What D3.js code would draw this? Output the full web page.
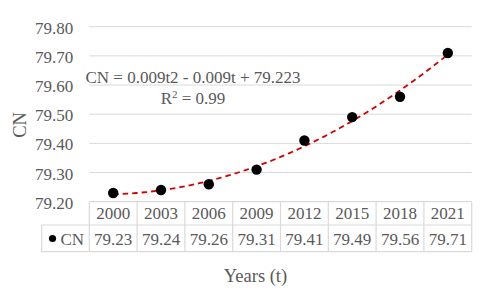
<!DOCTYPE html>
<html><head><meta charset="utf-8">
<script src="https://cdn.jsdelivr.net/npm/d3@7"></script>
<style>body{margin:0;background:#fff}svg{display:block}</style>
</head><body>
<svg id="c" width="480" height="294"></svg>
<script>
const years = ["2000","2003","2006","2009","2012","2015","2018","2021"];
const cnValues = [79.23,79.24,79.26,79.31,79.41,79.49,79.56,79.71];
const yTicks = [79.20,79.30,79.40,79.50,79.60,79.70,79.80];
const seriesName = "CN";
const eqText = "CN = 0.009t2 - 0.009t + 79.223";
const r2Text = "0.99";

(function(){
const svg = d3.select("#c");
const font = "'Liberation Serif','Times New Roman',serif";
const grey = "#595959";
const fs = 17;
const pLeft = 89.3, pRight = 471.7, pTop = 26.7, pBottom = 201.7;

const x = d3.scaleBand().domain(years).range([pLeft,pRight]);
const y = d3.scaleLinear().domain([79.2,79.8]).range([pBottom,pTop]);

// least-squares quadratic fit (t = 1..n), like a spreadsheet polynomial trendline
function quadFit(vals){
  const n = vals.length; let S=[0,0,0,0,0], T=[0,0,0];
  vals.forEach((v,i)=>{const t=i+1; for(let k=0;k<5;k++) S[k]+=Math.pow(t,k); for(let k=0;k<3;k++) T[k]+=v*Math.pow(t,k);});
  const A=[[S[0],S[1],S[2],T[0]],[S[1],S[2],S[3],T[1]],[S[2],S[3],S[4],T[2]]];
  for(let i=0;i<3;i++){ for(let j=i+1;j<3;j++){ const f=A[j][i]/A[i][i]; for(let k=i;k<4;k++) A[j][k]-=f*A[i][k]; } }
  const c=[0,0,0];
  for(let i=2;i>=0;i--){ let s=A[i][3]; for(let k=i+1;k<3;k++) s-=A[i][k]*c[k]; c[i]=s/A[i][i]; }
  return t=>c[0]+c[1]*t+c[2]*t*t;
}
const fit = quadFit(cnValues);

// gridlines
svg.append("g").selectAll("line").data(yTicks.slice(1)).join("line")
  .attr("x1",pLeft).attr("x2",pRight)
  .attr("y1",d=>y(d)).attr("y2",d=>y(d))
  .attr("stroke","#d9d9d9").attr("stroke-width",1);

// y axis labels
const yAxis = d3.axisLeft(y).tickValues(yTicks).tickFormat(d3.format(".2f")).tickSize(0).tickPadding(16);
const ga = svg.append("g").attr("transform",`translate(${pLeft},0)`).call(yAxis);
ga.select(".domain").remove();
ga.selectAll("text").attr("font-family",font).attr("font-size",fs).attr("fill",grey).attr("dy","0.38em");

// axis titles
svg.append("text").attr("transform","translate(25.5,125) rotate(-90)")
  .attr("text-anchor","middle").attr("font-family",font).attr("font-size",18.5).attr("fill",grey).text("CN");
svg.append("text").attr("x",255.5).attr("y",281.5)
  .attr("text-anchor","middle").attr("font-family",font).attr("font-size",18.5).attr("fill",grey).text("Years (t)");

// data table
const row1 = pBottom, row2 = 225, row3 = 251.7, legLeft = 41.7;
const tbl = svg.append("g").attr("stroke","#d9d9d9").attr("stroke-width",1.2);
tbl.append("line").attr("x1",pLeft).attr("x2",pRight).attr("y1",row1).attr("y2",row1);
tbl.append("line").attr("x1",legLeft).attr("x2",pRight).attr("y1",row2).attr("y2",row2);
tbl.append("line").attr("x1",legLeft).attr("x2",pRight).attr("y1",row3).attr("y2",row3);
tbl.append("line").attr("x1",legLeft).attr("x2",legLeft).attr("y1",row2).attr("y2",row3);
tbl.selectAll(".v").data(years).join("line")
  .attr("x1",d=>x(d)).attr("x2",d=>x(d)).attr("y1",row1).attr("y2",row3);
tbl.append("line").attr("x1",pRight).attr("x2",pRight).attr("y1",row1).attr("y2",row3);

svg.append("g").selectAll("text").data(years).join("text")
  .attr("x",d=>x(d)+x.bandwidth()/2).attr("y",218.5).attr("text-anchor","middle")
  .attr("font-family",font).attr("font-size",fs).attr("fill",grey).text(d=>d);
svg.append("g").selectAll("text").data(cnValues).join("text")
  .attr("x",(d,i)=>x(years[i])+x.bandwidth()/2).attr("y",245).attr("text-anchor","middle")
  .attr("font-family",font).attr("font-size",fs).attr("fill",grey).text(d=>d.toFixed(2));
svg.append("circle").attr("cx",52.5).attr("cy",238.5).attr("r",3.6).attr("fill","#000");
svg.append("text").attr("x",60.5).attr("y",245).attr("font-family",font).attr("font-size",fs).attr("fill",grey).text(seriesName);

// trendline
const tScale = d3.scaleLinear().domain([1,years.length]).range([x(years[0])+x.bandwidth()/2, x(years[years.length-1])+x.bandwidth()/2]);
const tPts = d3.range(1, years.length+0.001, 0.1).map(t=>[t, fit(t)]);
svg.append("path").datum(tPts)
  .attr("d",d3.line().x(d=>tScale(d[0])).y(d=>y(d[1])).curve(d3.curveMonotoneX))
  .attr("fill","none").attr("stroke","#d00000").attr("stroke-width",1.8).attr("stroke-dasharray","5.5,4");

// points
svg.append("g").selectAll("circle").data(cnValues).join("circle")
  .attr("cx",(d,i)=>x(years[i])+x.bandwidth()/2).attr("cy",d=>y(d)).attr("r",5.2).attr("fill","#000");

// equation
svg.append("text").attr("x",193).attr("y",83).attr("text-anchor","middle")
  .attr("font-family",font).attr("font-size",fs).attr("fill",grey).text(eqText);
const r2 = svg.append("text").attr("x",193).attr("y",103.5).attr("text-anchor","middle")
  .attr("font-family",font).attr("font-size",fs).attr("fill",grey);
r2.append("tspan").text("R");
r2.append("tspan").attr("font-size",11).attr("dy",-6).text("2");
r2.append("tspan").attr("dy",6).text(" = " + r2Text);
})();
</script>
</body></html>
